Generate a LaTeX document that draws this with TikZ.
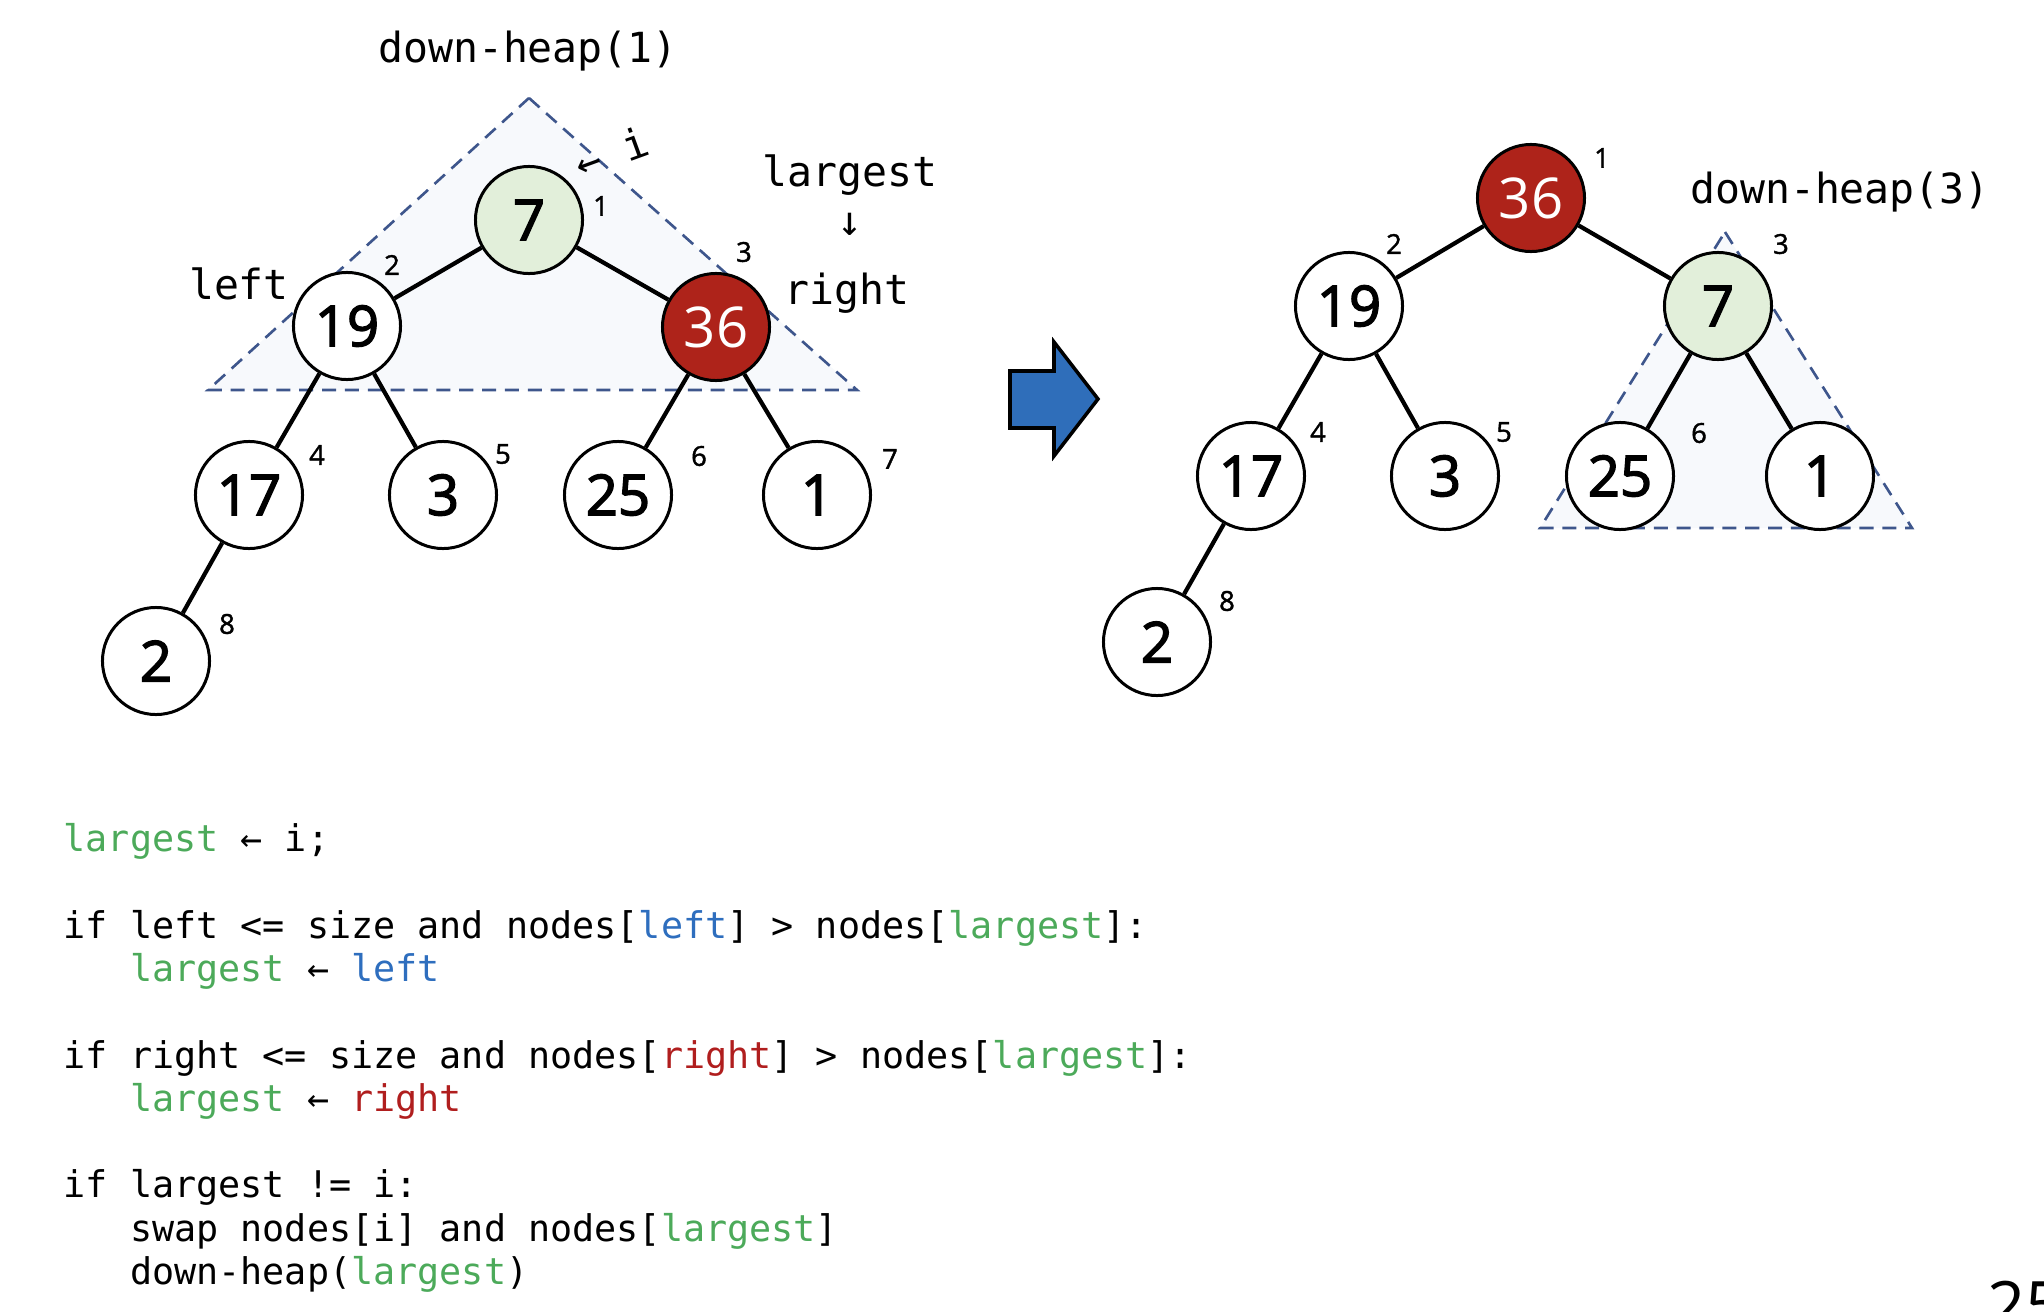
\documentclass[tikz,border=0pt]{standalone}
\usepackage{fontspec}
\setmonofont{DejaVu Sans Mono}
\newfontfamily\numfont[FakeBold=2.5]{Open Sans}
\newfontfamily\idxfont[FakeBold=1.5]{Open Sans}
\newfontfamily\plainfont{Open Sans}

\definecolor{heapred}{RGB}{174,35,26}
\definecolor{heapgreen}{RGB}{226,239,218}
\definecolor{trifill}{RGB}{247,249,252}
\definecolor{tridash}{RGB}{62,86,140}
\definecolor{arrowblue}{RGB}{47,110,186}
\definecolor{codegreen}{RGB}{76,170,90}
\definecolor{codeblue}{RGB}{46,110,190}
\definecolor{codered}{RGB}{176,30,30}

\newcommand{\cgreen}[1]{\textcolor{codegreen}{#1}}
\newcommand{\cblue}[1]{\textcolor{codeblue}{#1}}
\newcommand{\cred}[1]{\textcolor{codered}{#1}}
\newcommand{\cind}{\phantom{xxx}}

\begin{document}
\begin{tikzpicture}[x=0.01cm,y=-0.01cm]
\tikzstyle{heap} = [circle, draw=black, line width=0.85pt, minimum size=1.07cm, inner sep=0pt, fill=white, font=\numfont\fontsize{16}{19}\selectfont]
\tikzstyle{cur} = [heap, fill=heapgreen]
\tikzstyle{big} = [heap, fill=heapred, text=white, font=\plainfont\fontsize{16}{19}\selectfont]
\tikzstyle{idx} = [inner sep=0pt, font=\idxfont\fontsize{7.8}{9}\selectfont]
\tikzstyle{lbl} = [inner sep=0pt, font=\ttfamily\fontsize{11.8}{14}\selectfont]
\tikzstyle{code} = [anchor=base west, inner sep=0pt, font=\ttfamily\fontsize{10.45}{13}\selectfont]
\tikzstyle{link} = [line width=1.2pt]
\tikzstyle{sub} = [draw=tridash, fill=trifill, dash pattern=on 4pt off 2.5pt, line width=0.75pt]

    \useasboundingbox (0,0) rectangle (2044,1312);

    % subtrees
	\draw [sub] (529,98) -- (857,390) -- (208,390) -- cycle;
	\draw [sub] (1725,232) -- (1912,528) -- (1540,528) -- cycle;

    % before
    \node (a1) at (529,220) [cur] {7};
    \node (a2) at (347,326) [heap] {19};
    \node (a3) at (716,327) [big] {36};
    \node (a4) at (249,495) [heap] {17};
    \node (a5) at (443,495) [heap] {3};
    \node (a6) at (618,495) [heap] {25};
    \node (a7) at (817,495) [heap] {1};
    \node (a8) at (156,661) [heap] {2};

    \draw [link] (a1) -- (a2);
    \draw [link] (a1) -- (a3);
    \draw [link] (a2) -- (a4);
    \draw [link] (a2) -- (a5);
    \draw [link] (a3) -- (a6);
    \draw [link] (a3) -- (a7);
    \draw [link] (a4) -- (a8);

    \node (ai1) at (601,206) [idx] {1};
    \node (ai2) at (392,265) [idx] {2};
    \node (ai3) at (744,252) [idx] {3};
    \node (ai4) at (317,455) [idx] {4};
    \node (ai5) at (503,454) [idx] {5};
    \node (ai6) at (699,456) [idx] {6};
    \node (ai7) at (890,459) [idx] {7};
    \node (ai8) at (227,624) [idx] {8};

    \node (call1) at (528,51) [lbl] {down-heap(1)};
    \node (ptr) at (611,152) [lbl, rotate=20] {← i};
    \node (largest) at (850,175) [lbl] {largest};
    \node (down) at (850,224) [lbl] {↓};
    \node (left) at (239,284) [lbl] {left};
    \node (right) at (847,293) [lbl] {right};

    % step arrow
    \draw [fill=arrowblue, line width=1pt] (1010,371) -- (1054,371) -- (1054,342) -- (1098,399) -- (1054,456) -- (1054,428) -- (1010,428) -- cycle;

    % after
    \node (b1) at (1531,198) [big] {36};
    \node (b2) at (1349,306) [heap] {19};
    \node (b3) at (1718,306) [cur] {7};
    \node (b4) at (1251,476) [heap] {17};
    \node (b5) at (1445,476) [heap] {3};
    \node (b6) at (1620,476) [heap] {25};
    \node (b7) at (1820,476) [heap] {1};
    \node (b8) at (1157,642) [heap] {2};

    \draw [link] (b1) -- (b2);
    \draw [link] (b1) -- (b3);
    \draw [link] (b2) -- (b4);
    \draw [link] (b2) -- (b5);
    \draw [link] (b3) -- (b6);
    \draw [link] (b3) -- (b7);
    \draw [link] (b4) -- (b8);

    \node (bi1) at (1602,158) [idx] {1};
    \node (bi2) at (1394,244) [idx] {2};
    \node (bi3) at (1781,244) [idx] {3};
    \node (bi4) at (1318,432) [idx] {4};
    \node (bi5) at (1504,432) [idx] {5};
    \node (bi6) at (1699,433) [idx] {6};
    \node (bi8) at (1227,601) [idx] {8};

    \node (call3) at (1840,192) [lbl] {down-heap(3)};

    % pseudo code
    \node (c1) at (63,851) [code] {\cgreen{largest} ← i;};
    \node (c2) at (63,938) [code] {if left <= size and nodes[\cblue{left}] > nodes[\cgreen{largest}]:};
    \node (c3) at (63,981) [code] {\cind\cgreen{largest} ← \cblue{left}};
    \node (c4) at (63,1068) [code] {if right <= size and nodes[\cred{right}] > nodes[\cgreen{largest}]:};
    \node (c5) at (63,1111) [code] {\cind\cgreen{largest} ← \cred{right}};
    \node (c6) at (63,1197) [code] {if largest != i:};
    \node (c7) at (63,1241) [code] {\cind swap nodes[i] and nodes[\cgreen{largest}]};
    \node (c8) at (63,1284) [code] {\cind down-heap(\cgreen{largest})};

    \node (page) at (1987,1329) [anchor=base west, inner sep=0pt, font=\plainfont\fontsize{19}{23}\selectfont] {25};
\end{tikzpicture}
\end{document}
